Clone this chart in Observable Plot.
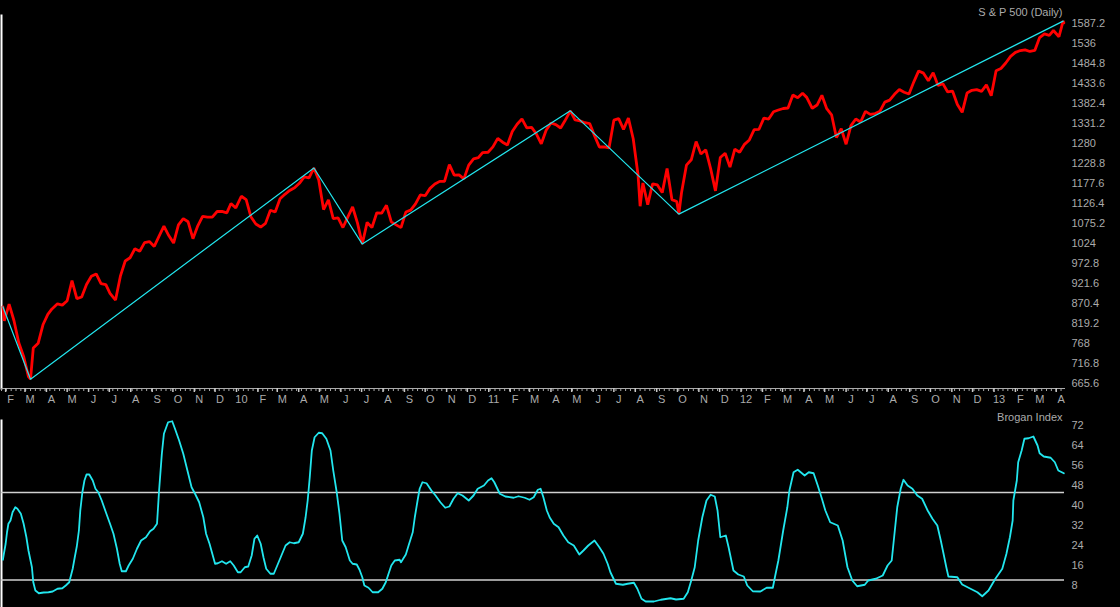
<!DOCTYPE html>
<html><head><meta charset="utf-8">
<script src="https://cdn.jsdelivr.net/npm/d3@7"></script>
<script src="https://cdn.jsdelivr.net/npm/@observablehq/plot@0.6"></script>
<style>
html,body{margin:0;padding:0;background:#000;}
#chart{position:relative;width:1120px;height:607px;overflow:hidden;background:#000;}
#chart svg{display:block;}
</style></head><body><div id="chart"></div>
<script>
// ---- S&P 500 closes (weekly, plus key daily turning points) ----
const spxCloses = [
["2009-01-28",862],["2009-01-30",825.88],["2009-02-06",868.60],["2009-02-13",826.84],["2009-02-20",770.05],["2009-02-27",735.09],
["2009-03-06",683.38],["2009-03-09",676.53],["2009-03-13",756.55],["2009-03-20",768.54],["2009-03-27",815.94],["2009-04-03",842.50],
["2009-04-09",856.56],["2009-04-17",869.60],["2009-04-24",866.23],["2009-05-01",877.52],["2009-05-08",929.23],["2009-05-15",882.88],
["2009-05-22",887.00],["2009-05-29",919.14],["2009-06-05",940.09],["2009-06-12",946.21],["2009-06-19",921.23],["2009-06-26",918.90],
["2009-07-02",896.42],["2009-07-10",879.13],["2009-07-17",940.38],["2009-07-24",979.26],["2009-07-31",987.48],["2009-08-07",1010.48],
["2009-08-14",1004.09],["2009-08-21",1026.13],["2009-08-28",1028.93],["2009-09-04",1016.40],["2009-09-11",1042.73],["2009-09-18",1068.30],
["2009-09-25",1044.38],["2009-10-02",1025.21],["2009-10-09",1071.49],["2009-10-16",1087.68],["2009-10-23",1079.60],["2009-10-30",1036.19],
["2009-11-06",1069.30],["2009-11-13",1093.48],["2009-11-20",1091.38],["2009-11-27",1091.49],["2009-12-04",1105.98],["2009-12-11",1106.41],
["2009-12-18",1102.47],["2009-12-24",1126.48],["2009-12-31",1115.10],
["2010-01-08",1144.98],["2010-01-15",1136.03],["2010-01-22",1091.76],["2010-01-29",1073.87],["2010-02-05",1066.19],["2010-02-12",1075.51],
["2010-02-19",1109.17],["2010-02-26",1104.49],["2010-03-05",1138.70],["2010-03-12",1149.99],["2010-03-19",1159.90],["2010-03-26",1166.59],
["2010-04-02",1178.10],["2010-04-09",1194.37],["2010-04-16",1192.13],["2010-04-23",1217.28],["2010-04-30",1186.69],["2010-05-07",1110.88],
["2010-05-14",1135.68],["2010-05-21",1087.69],["2010-05-28",1089.41],["2010-06-04",1064.88],["2010-06-11",1091.60],["2010-06-18",1117.51],
["2010-06-25",1076.76],["2010-07-02",1022.58],["2010-07-09",1077.96],["2010-07-16",1064.88],["2010-07-23",1102.66],["2010-07-30",1101.60],
["2010-08-06",1121.64],["2010-08-13",1079.25],["2010-08-20",1071.69],["2010-08-27",1064.59],["2010-09-03",1104.51],["2010-09-10",1109.55],
["2010-09-17",1125.59],["2010-09-24",1148.67],["2010-10-01",1146.24],["2010-10-08",1165.15],["2010-10-15",1176.19],["2010-10-22",1183.08],
["2010-10-29",1183.26],["2010-11-05",1225.85],["2010-11-12",1199.21],["2010-11-19",1199.73],["2010-11-26",1189.40],["2010-12-03",1224.71],
["2010-12-10",1240.40],["2010-12-17",1243.91],["2010-12-23",1256.77],["2010-12-31",1257.64],
["2011-01-07",1271.50],["2011-01-14",1293.24],["2011-01-21",1283.35],["2011-01-28",1276.34],["2011-02-04",1310.87],["2011-02-11",1329.15],
["2011-02-18",1343.01],["2011-02-25",1319.88],["2011-03-04",1321.15],["2011-03-11",1304.28],["2011-03-18",1279.20],["2011-03-25",1313.80],
["2011-04-01",1332.41],["2011-04-08",1328.17],["2011-04-15",1319.68],["2011-04-21",1337.38],["2011-04-29",1363.61],["2011-05-06",1340.20],
["2011-05-13",1337.77],["2011-05-20",1333.27],["2011-05-27",1331.10],["2011-06-03",1300.16],["2011-06-10",1270.98],["2011-06-17",1271.50],
["2011-06-24",1268.45],["2011-07-01",1339.67],["2011-07-08",1343.80],["2011-07-15",1316.14],["2011-07-22",1345.02],["2011-07-29",1292.28],
["2011-08-05",1199.38],["2011-08-08",1119.46],["2011-08-12",1178.81],["2011-08-19",1123.53],["2011-08-26",1176.80],["2011-09-02",1173.97],
["2011-09-09",1154.23],["2011-09-16",1216.01],["2011-09-23",1136.43],["2011-09-30",1131.42],["2011-10-03",1099.23],["2011-10-07",1155.46],
["2011-10-14",1224.58],["2011-10-21",1238.25],["2011-10-28",1285.09],["2011-11-04",1253.23],["2011-11-11",1263.85],["2011-11-18",1215.65],
["2011-11-25",1158.67],["2011-12-02",1244.28],["2011-12-09",1255.19],["2011-12-16",1219.66],["2011-12-23",1265.33],["2011-12-30",1257.60],
["2012-01-06",1277.81],["2012-01-13",1289.09],["2012-01-20",1315.38],["2012-01-27",1316.33],["2012-02-03",1344.90],["2012-02-10",1342.64],
["2012-02-17",1361.23],["2012-02-24",1365.74],["2012-03-02",1369.63],["2012-03-09",1370.87],["2012-03-16",1404.17],["2012-03-23",1397.11],
["2012-03-30",1408.47],["2012-04-05",1398.08],["2012-04-13",1370.26],["2012-04-20",1378.53],["2012-04-27",1403.36],["2012-05-04",1369.10],
["2012-05-11",1353.39],["2012-05-18",1295.22],["2012-05-25",1317.82],["2012-06-01",1278.04],["2012-06-08",1325.66],["2012-06-15",1342.84],
["2012-06-22",1335.02],["2012-06-29",1362.16],["2012-07-06",1354.68],["2012-07-13",1356.78],["2012-07-20",1362.66],["2012-07-27",1385.97],
["2012-08-03",1390.99],["2012-08-10",1405.87],["2012-08-17",1418.16],["2012-08-24",1411.13],["2012-08-31",1406.58],["2012-09-07",1437.92],
["2012-09-14",1465.77],["2012-09-21",1460.15],["2012-09-28",1440.67],["2012-10-05",1460.93],["2012-10-12",1428.59],["2012-10-19",1433.19],
["2012-10-26",1411.94],["2012-11-02",1414.20],["2012-11-09",1379.85],["2012-11-16",1359.88],["2012-11-23",1409.15],["2012-11-30",1416.18],
["2012-12-07",1418.07],["2012-12-14",1413.58],["2012-12-21",1430.15],["2012-12-28",1402.43],
["2013-01-04",1466.47],["2013-01-11",1472.05],["2013-01-18",1485.98],["2013-01-25",1502.96],["2013-02-01",1513.17],["2013-02-08",1517.93],
["2013-02-15",1519.79],["2013-02-22",1515.60],["2013-03-01",1518.20],["2013-03-08",1551.18],["2013-03-15",1560.70],["2013-03-22",1556.89],
["2013-03-28",1569.19],["2013-04-05",1553.28],["2013-04-11",1593.37],["2013-04-12",1588.85]
];

// ---- ZigZag turning points (closes) ----
const zigzagPoints = [
["2009-01-28",862],["2009-03-09",676.53],["2010-04-23",1217.28],["2010-07-02",1022.58],
["2011-04-29",1363.61],["2011-10-03",1099.23],["2013-04-11",1593.37]
];

// ---- Brogan Index ----
const broganIndex = [
["2009-01-28",18.1],["2009-01-29",19.8],["2009-02-01",24.5],["2009-02-03",29.1],["2009-02-05",32.5],["2009-02-08",33.8],
["2009-02-11",37.1],["2009-02-15",39.1],["2009-02-18",38.5],["2009-02-23",36.5],["2009-02-27",32.5],["2009-03-03",27.1],
["2009-03-06",21.8],["2009-03-11",15.1],["2009-03-13",9.1],["2009-03-16",5.8],["2009-03-21",4.7],["2009-03-28",5.0],
["2009-04-04",5.1],["2009-04-10",5.4],["2009-04-17",6.5],["2009-04-24",6.7],["2009-04-29",7.8],["2009-05-04",9.1],
["2009-05-09",14.5],["2009-05-12",19.1],["2009-05-15",23.5],["2009-05-18",29.8],["2009-05-20",37.8],["2009-05-23",45.1],
["2009-05-26",49.8],["2009-05-29",52.2],["2009-06-02",52.2],["2009-06-07",49.8],["2009-06-11",46.5],["2009-06-15",45.1],
["2009-06-20",41.8],["2009-06-26",37.1],["2009-07-02",32.5],["2009-07-07",28.5],["2009-07-12",22.5],["2009-07-16",16.5],
["2009-07-19",13.5],["2009-07-25",13.5],["2009-07-29",15.8],["2009-08-04",18.5],["2009-08-10",22.5],["2009-08-16",25.8],
["2009-08-23",27.1],["2009-08-29",29.5],["2009-09-03",30.5],["2009-09-08",32.5],["2009-09-11",45.8],["2009-09-15",60.5],
["2009-09-18",68.5],["2009-09-24",73.1],["2009-09-30",73.5],["2009-10-04",70.5],["2009-10-10",65.8],["2009-10-16",60.5],
["2009-10-22",53.8],["2009-10-28",47.1],["2009-11-02",44.5],["2009-11-08",41.1],["2009-11-14",35.1],["2009-11-18",28.5],
["2009-11-23",24.5],["2009-11-27",20.5],["2009-12-01",16.5],["2009-12-05",16.7],["2009-12-11",17.5],["2009-12-17",16.5],
["2009-12-23",17.5],["2009-12-28",15.8],["2010-01-03",13.1],["2010-01-07",13.1],["2010-01-13",15.1],["2010-01-18",15.4],
["2010-01-23",19.8],["2010-01-27",26.5],["2010-01-31",27.8],["2010-02-05",24.5],["2010-02-09",19.1],["2010-02-13",14.5],
["2010-02-19",12.5],["2010-02-24",12.5],["2010-03-01",15.8],["2010-03-07",19.8],["2010-03-13",23.8],["2010-03-19",25.1],
["2010-03-25",24.7],["2010-04-01",25.1],["2010-04-07",28.5],["2010-04-11",35.1],["2010-04-14",41.8],["2010-04-17",51.1],
["2010-04-20",61.8],["2010-04-24",67.1],["2010-04-30",68.9],["2010-05-05",68.7],["2010-05-11",66.5],["2010-05-17",61.8],
["2010-05-21",53.8],["2010-05-26",45.1],["2010-05-30",36.5],["2010-06-03",25.8],["2010-06-08",23.1],["2010-06-14",17.8],
["2010-06-18",16.5],["2010-06-24",16.2],["2010-06-28",14.1],["2010-07-02",11.1],["2010-07-05",7.8],["2010-07-11",6.9],
["2010-07-17",5.1],["2010-07-25",5.1],["2010-07-31",6.5],["2010-08-05",9.1],["2010-08-09",12.5],["2010-08-13",15.8],
["2010-08-18",17.8],["2010-08-25",18.1],["2010-08-27",17.1],["2010-09-03",20.2],["2010-09-07",23.8],["2010-09-13",29.1],
["2010-09-16",35.1],["2010-09-20",41.8],["2010-09-23",46.5],["2010-09-27",49.1],["2010-10-03",48.7],["2010-10-10",45.8],
["2010-10-16",43.8],["2010-10-23",41.1],["2010-10-30",38.9],["2010-11-05",39.4],["2010-11-11",42.5],["2010-11-17",44.7],
["2010-11-24",43.8],["2010-12-03",41.8],["2010-12-10",43.8],["2010-12-16",46.5],["2010-12-25",47.8],["2010-12-31",49.8],
["2011-01-05",50.7],["2011-01-09",49.1],["2011-01-17",44.5],["2011-01-25",43.4],["2011-02-06",42.9],["2011-02-13",43.5],
["2011-02-22",42.9],["2011-03-01",42.1],["2011-03-07",43.1],["2011-03-13",46.1],["2011-03-17",46.5],["2011-03-21",43.1],
["2011-03-26",37.8],["2011-03-30",35.1],["2011-04-05",32.5],["2011-04-12",31.1],["2011-04-19",27.8],["2011-04-26",25.1],
["2011-05-04",23.8],["2011-05-12",20.2],["2011-05-18",21.8],["2011-05-25",23.8],["2011-06-03",25.8],["2011-06-10",23.1],
["2011-06-16",20.5],["2011-06-22",16.5],["2011-06-26",13.1],["2011-07-04",8.5],["2011-07-14",8.1],["2011-07-21",8.5],
["2011-07-30",8.9],["2011-08-04",6.5],["2011-08-10",2.5],["2011-08-16",1.4],["2011-08-28",1.4],["2011-09-07",2.1],
["2011-09-21",2.7],["2011-09-29",2.2],["2011-10-10",2.5],["2011-10-16",5.1],["2011-10-21",9.8],["2011-10-26",15.1],
["2011-10-31",25.8],["2011-11-06",35.1],["2011-11-12",41.8],["2011-11-18",44.1],["2011-11-24",43.4],["2011-11-28",37.8],
["2011-12-02",27.1],["2011-12-10",27.8],["2011-12-14",23.1],["2011-12-21",13.8],["2011-12-28",12.2],["2012-01-05",11.4],
["2012-01-10",7.8],["2012-01-18",5.5],["2012-01-29",5.4],["2012-02-07",6.9],["2012-02-16",6.9],["2012-02-19",11.1],
["2012-02-24",17.8],["2012-03-02",29.8],["2012-03-08",39.1],["2012-03-11",45.8],["2012-03-17",53.1],["2012-03-23",54.1],
["2012-04-02",51.8],["2012-04-08",53.1],["2012-04-15",52.7],["2012-04-21",47.8],["2012-04-27",42.5],["2012-05-02",37.8],
["2012-05-09",33.1],["2012-05-20",31.8],["2012-05-27",25.8],["2012-06-03",15.1],["2012-06-10",9.8],["2012-06-17",7.5],
["2012-06-28",8.1],["2012-07-03",9.8],["2012-07-14",10.5],["2012-07-24",11.8],["2012-07-31",15.8],["2012-08-06",17.8],
["2012-08-09",25.8],["2012-08-14",39.1],["2012-08-19",46.5],["2012-08-23",50.1],["2012-08-29",47.8],["2012-09-05",46.5],
["2012-09-12",43.8],["2012-09-19",42.5],["2012-09-27",37.8],["2012-10-04",34.5],["2012-10-11",31.8],["2012-10-16",25.8],
["2012-10-20",20.5],["2012-10-24",15.1],["2012-10-27",11.4],["2012-11-09",11.1],["2012-11-16",8.2],["2012-11-28",6.5],
["2012-12-08",5.1],["2012-12-15",3.5],["2012-12-24",5.8],["2013-01-03",10.5],["2013-01-13",14.5],["2013-01-19",20.5],
["2013-01-24",27.1],["2013-01-28",33.8],["2013-01-29",41.8],["2013-02-03",49.8],["2013-02-05",57.1],["2013-02-10",61.8],
["2013-02-14",66.5],["2013-02-20",66.7],["2013-02-27",67.4],["2013-03-05",63.8],["2013-03-08",60.7],["2013-03-14",59.4],
["2013-03-24",58.9],["2013-03-30",57.1],["2013-04-04",53.8],["2013-04-12",52.7]
];

const broganLevels = [45, 10];
const spxTicks = [665.6,716.8,768,819.2,870.4,921.6,972.8,1024,1075.2,1126.4,1177.6,1228.8,1280,1331.2,1382.4,1433.6,1484.8,1536,1587.2];
const broganTicks = [8,16,24,32,40,48,56,64,72];
const monthLetters = ["J","F","M","A","M","J","J","A","S","O","N","D"];
const titleTop = "S & P 500 (Daily)";
const titleBottom = "Brogan Index";

const parse = d3.utcParse("%Y-%m-%d");
const spx = spxCloses.map(([d, v]) => ({date: parse(d), value: v}));
const zz = zigzagPoints.map(([d, v]) => ({date: parse(d), value: v}));
const brogan = broganIndex.map(([d, v]) => ({date: parse(d), value: v}));

const xDomain = [parse("2009-01-26"), parse("2013-04-13")];
const gray = "#ababab";
const cyan = "#22e6ee";
const font = "'Liberation Sans', Arial, sans-serif";
const monthFmt = d => d.getUTCMonth() === 0 ? String(d.getUTCFullYear()).slice(2) : monthLetters[d.getUTCMonth()];

const priceChart = Plot.plot({
  width: 1120, height: 405,
  marginLeft: 1, marginRight: 56, marginTop: 15, marginBottom: 17,
  style: {background: "#000", color: gray, fontFamily: font, fontSize: "11px"},
  x: {type: "utc", domain: xDomain, axis: null, label: null},
  y: {domain: [652.8, 1607.68], axis: null, label: null},
  marks: [
    Plot.frame({anchor: "left", stroke: "#ffffff", strokeWidth: 2}),
    Plot.frame({anchor: "bottom", stroke: gray}),
    Plot.axisX({ticks: d3.utcMonday, tickSize: 3, fill: "none", stroke: gray, label: null}),
    Plot.axisX({ticks: d3.utcMonth, tickSize: 4, fill: "none", stroke: "#c8c8c8", strokeWidth: 1.5, label: null}),
    Plot.axisX({ticks: d3.utcMonth, tickSize: 0, tickPadding: 7, tickFormat: monthFmt, dx: 5, fill: gray, label: null, textAnchor: "middle"}),
    Plot.axisY({anchor: "right", ticks: spxTicks, tickSize: 0, tickPadding: 7, tickFormat: d => String(d), fill: gray, label: null}),
    Plot.line(spx, {x: "date", y: "value", stroke: "#ff0000", strokeWidth: 2.8, strokeLinejoin: "miter"}),
    Plot.line(zz, {x: "date", y: "value", stroke: cyan, strokeWidth: 1.2}),
    Plot.text([titleTop], {frameAnchor: "top-right", dy: -7, dx: -2, fill: gray, textAnchor: "end"})
  ]
});

const broganChart = Plot.plot({
  width: 1120, height: 202,
  marginLeft: 1, marginRight: 56, marginTop: 15, marginBottom: 0,
  style: {background: "#000", color: gray, fontFamily: font, fontSize: "11px"},
  x: {type: "utc", domain: xDomain, axis: null, label: null},
  y: {domain: [-1, 73.8], axis: null, label: null},
  marks: [
    Plot.frame({anchor: "left", stroke: "#ffffff", strokeWidth: 2}),
    Plot.ruleY(broganLevels, {stroke: "#d0d0d0", strokeWidth: 1.5}),
    Plot.line(brogan, {x: "date", y: "value", stroke: cyan, strokeWidth: 1.8}),
    Plot.axisY({anchor: "right", ticks: broganTicks, tickSize: 0, tickPadding: 7, tickFormat: d => String(d), fill: gray, label: null}),
    Plot.text([titleBottom], {frameAnchor: "top-right", dy: -7, dx: -2, fill: gray, textAnchor: "end"})
  ]
});

const root = document.getElementById("chart");
root.appendChild(priceChart);
root.appendChild(broganChart);
</script>
</body></html>
